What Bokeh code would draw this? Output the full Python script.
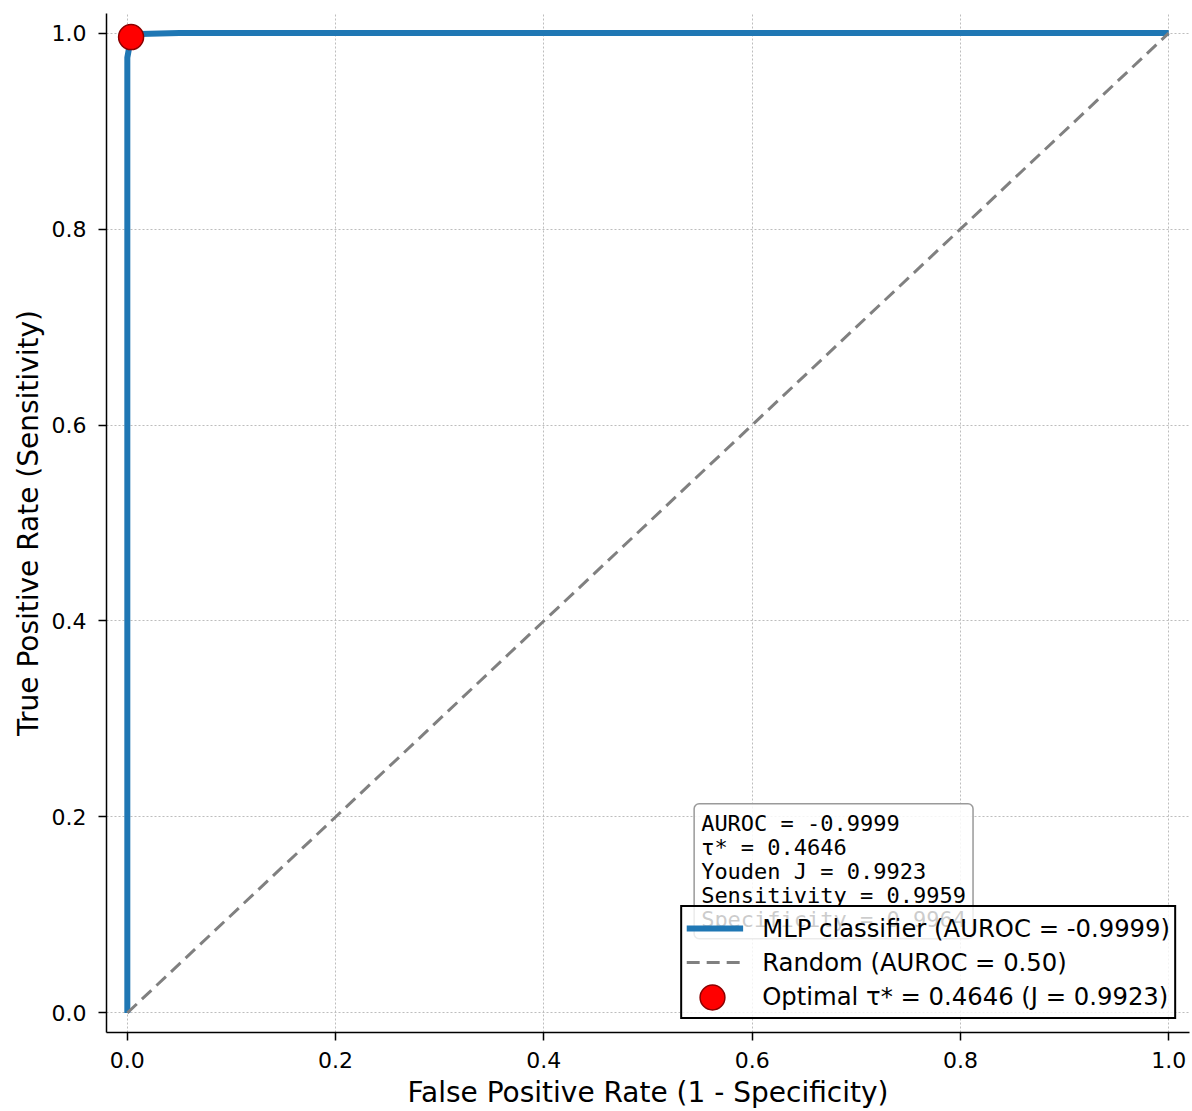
from bokeh.plotting import figure
from bokeh.models import Range1d, FixedTicker, Label, Legend, LegendItem
from bokeh.embed import file_html
from bokeh.resources import INLINE

# ---- data ----
fpr = [0.0, 0.0, 0.0, 0.0036, 0.012, 0.05, 1.0]
tpr = [0.0, 0.60, 0.975, 0.9959, 0.999, 1.0, 1.0]
rand_x = [0.0, 1.0]
rand_y = [0.0, 1.0]
opt_fpr = [0.0036]
opt_tpr = [0.9959]
ticks = [0.0, 0.2, 0.4, 0.6, 0.8, 1.0]
tick_labels = ["0.0", "0.2", "0.4", "0.6", "0.8", "1.0"]
auroc = -0.9999
tau = 0.4646
youden = 0.9923
sens = 0.9959
spec = 0.9964

FONT = "DejaVu Sans"

p = figure(width=1192, height=1111, output_backend="svg", toolbar_location=None,
           x_range=Range1d(-0.02, 1.02), y_range=Range1d(-0.02, 1.02),
           min_border_left=106, min_border_right=3, min_border_top=13,
           min_border_bottom=78)
p.outline_line_color = None
p.background_fill_color = "white"
p.border_fill_color = "white"

for ax in (p.xaxis[0], p.yaxis[0]):
    ax.ticker = FixedTicker(ticks=ticks)
    ax.major_label_overrides = {t: l for t, l in zip(ticks, tick_labels)}
    ax.minor_tick_line_color = None
    ax.major_tick_in = 0
    ax.major_tick_out = 8
    ax.major_tick_line_width = 1.5
    ax.axis_line_width = 1.5
    ax.axis_line_color = "black"
    ax.major_tick_line_color = "black"
    ax.major_label_text_font = FONT
    ax.major_label_text_font_size = "22px"
    ax.major_label_text_color = "black"
    ax.axis_label_text_font = FONT
    ax.axis_label_text_font_size = "28px"
    ax.axis_label_text_font_style = "normal"
    ax.axis_label_text_color = "black"

p.xaxis[0].major_label_standoff = 11
p.xaxis[0].axis_label_standoff = 5
p.yaxis[0].major_label_standoff = 12
p.yaxis[0].axis_label_standoff = 4

p.xaxis.axis_label = "False Positive Rate (1 - Specificity)"
p.yaxis.axis_label = "True Positive Rate (Sensitivity)"

for g in (p.xgrid[0], p.ygrid[0]):
    g.ticker = FixedTicker(ticks=ticks)
    g.grid_line_color = "#bdbdbd"
    g.grid_line_dash = "2 2"
    g.grid_line_width = 1

# text box (added before the legend so the legend is drawn on top)
box_text = "\n".join([
    f"AUROC = {auroc:.4f}",
    f"τ* = {tau:.4f}",
    f"Youden J = {youden:.4f}",
    f"Sensitivity = {sens:.4f}",
    f"Specificity = {spec:.4f}",
])
lab = Label(x=0.5443, y=0.2135, text=box_text, text_align="left",
            text_baseline="top", text_font="DejaVu Sans Mono",
            text_font_size="22px", text_color="black", text_line_height=0.96,
            background_fill_color="white", background_fill_alpha=0.85,
            border_line_color="#9a9a9a", border_line_width=1.5,
            border_radius=5, padding=7)
p.add_layout(lab)

r_mlp = p.line(fpr, tpr, line_color="#1f77b4", line_width=6)
r_rand = p.line(rand_x, rand_y, line_color="#808080", line_width=3,
                line_dash="13 7")
r_opt = p.scatter(opt_fpr, opt_tpr, size=25, fill_color="red",
                  line_color="#8b0000", line_width=1.5)
# invisible twin used only as a placeholder row in the main legend
r_opt_blank = p.scatter(opt_fpr, opt_tpr, size=25, fill_alpha=0, line_alpha=0)

legend = Legend(items=[
    LegendItem(label=f"MLP classifier (AUROC = {auroc:.4f})", renderers=[r_mlp]),
    LegendItem(label="Random (AUROC = 0.50)", renderers=[r_rand]),
    LegendItem(label=f"Optimal τ* = {tau:.4f} (J = {youden:.4f})", renderers=[r_opt_blank]),
], location="bottom_right")
legend.label_text_font = FONT
legend.label_text_font_size = "24.3px"
legend.label_text_color = "black"
legend.border_line_color = "black"
legend.border_line_alpha = 1.0
legend.border_line_width = 2
legend.background_fill_color = "white"
legend.background_fill_alpha = 0.8
legend.padding = 4
legend.spacing = 0
legend.margin = 13
legend.glyph_width = 57
legend.glyph_height = 34
legend.label_height = 34
legend.label_standoff = 19
p.add_layout(legend)

# larger marker swatch for the "Optimal" legend row
marker_legend = Legend(items=[LegendItem(label="", renderers=[r_opt])],
                       location=(575, 4))
marker_legend.padding = 0
marker_legend.margin = 0
marker_legend.spacing = 0
marker_legend.label_standoff = 0
marker_legend.glyph_width = 62
marker_legend.glyph_height = 62
marker_legend.label_height = 62
marker_legend.border_line_color = None
marker_legend.background_fill_alpha = 0
marker_legend.label_text_font_size = "1px"
p.add_layout(marker_legend)

open("out.html", "w").write(file_html(p, INLINE))
